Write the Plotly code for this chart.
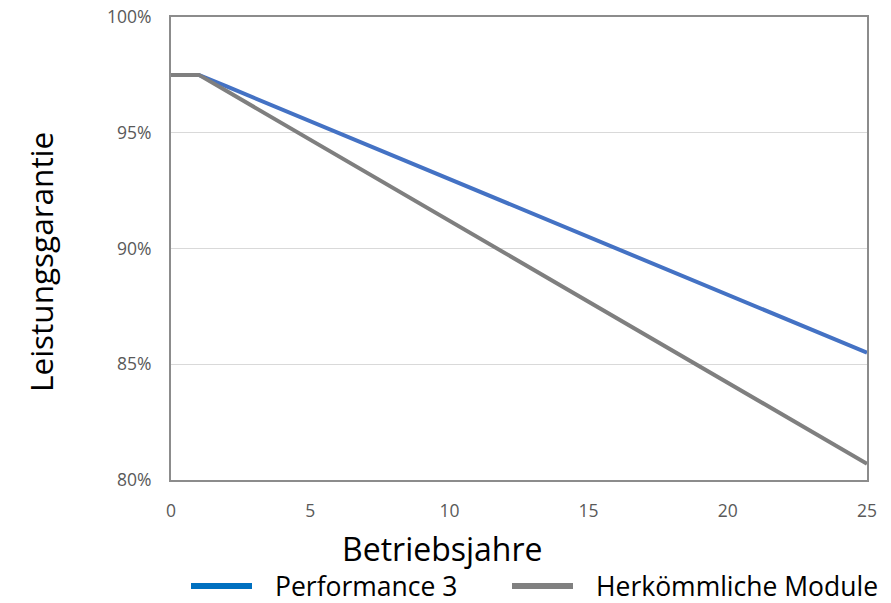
import plotly.graph_objects as go

# Garantierte Leistung (%) je Betriebsjahr
jahre = list(range(0, 26))
performance_3 = [97.5, 97.5, 97.0, 96.5, 96.0, 95.5, 95.0, 94.5, 94.0, 93.5, 93.0,
                 92.5, 92.0, 91.5, 91.0, 90.5, 90.0, 89.5, 89.0, 88.5, 88.0,
                 87.5, 87.0, 86.5, 86.0, 85.5]
herkoemmlich = [97.5, 97.5, 96.8, 96.1, 95.4, 94.7, 94.0, 93.3, 92.6, 91.9, 91.2,
                90.5, 89.8, 89.1, 88.4, 87.7, 87.0, 86.3, 85.6, 84.9, 84.2,
                83.5, 82.8, 82.1, 81.4, 80.7]

x_ticks = [0, 5, 10, 15, 20, 25]
y_ticks = [80, 85, 90, 95, 100]
y_labels = ["80%", "85%", "90%", "95%", "100%"]

names = ["Performance 3", "Herkömmliche Module"]
line_colors = ["#4472C4", "#7F7F7F"]
legend_colors = ["#0070C0", "#808080"]

FONT = "Open Sans"

fig = go.Figure()
fig.add_trace(go.Scatter(x=jahre, y=performance_3, mode="lines", name=names[0],
                         line=dict(color=line_colors[0], width=4), showlegend=False))
fig.add_trace(go.Scatter(x=jahre, y=herkoemmlich, mode="lines", name=names[1],
                         line=dict(color=line_colors[1], width=4), showlegend=False))

L, R, T, B = 171, 24, 17, 123
W, H = 891, 603

fig.update_layout(
    width=W, height=H,
    margin=dict(l=L, r=R, t=T, b=B, autoexpand=False),
    paper_bgcolor="white", plot_bgcolor="white",
    font=dict(family=FONT, color="#595959"),
    xaxis=dict(range=[0, 25], tickvals=x_ticks, showgrid=False, zeroline=False,
               showline=True, mirror=True, linecolor="#8C8C8C", linewidth=2,
               ticks="outside", ticklen=14, tickcolor="rgba(0,0,0,0)",
               tickfont=dict(size=17.5, color="#595959")),
    yaxis=dict(range=[80, 100], tickvals=y_ticks, ticktext=y_labels,
               ticklabeloverflow="allow",
               showgrid=True, gridcolor="#D9D9D9", gridwidth=1, zeroline=False,
               showline=True, mirror=True, linecolor="#8C8C8C", linewidth=2,
               ticks="outside", ticklen=14, tickcolor="rgba(0,0,0,0)",
               tickfont=dict(size=17.5, color="#595959")),
)

pw, ph = W - L - R, H - T - B

# Achsentitel
fig.add_annotation(text="Betriebsjahre", xref="paper", yref="paper",
                   x=(442 - L) / pw, y=-(548 - (H - B)) / ph,
                   showarrow=False, xanchor="center", yanchor="middle",
                   font=dict(family=FONT, size=32, color="black"))
fig.add_annotation(text="Leistungsgarantie", xref="paper", yref="paper",
                   x=-(L - 40) / pw, y=(H - B - 262) / ph,
                   showarrow=False, textangle=-90, xanchor="center", yanchor="middle",
                   font=dict(family=FONT, size=31.5, color="black"))

# Legende unterhalb des Diagramms
legend_y = -(586 - (H - B)) / ph
sample_x = [191, 512]
text_x = [273, 594]
for name, col, sx, tx in zip(names, legend_colors, sample_x, text_x):
    fig.add_shape(type="line", xref="paper", yref="paper",
                  x0=(sx - L) / pw, x1=(sx + 61 - L) / pw, y0=legend_y, y1=legend_y,
                  line=dict(color=col, width=6))
    fig.add_annotation(text=name, xref="paper", yref="paper",
                       x=(tx - L) / pw, y=legend_y, showarrow=False,
                       xanchor="left", yanchor="middle",
                       font=dict(family=FONT, size=26.5, color="black"))

fig.write_html("out.html")
